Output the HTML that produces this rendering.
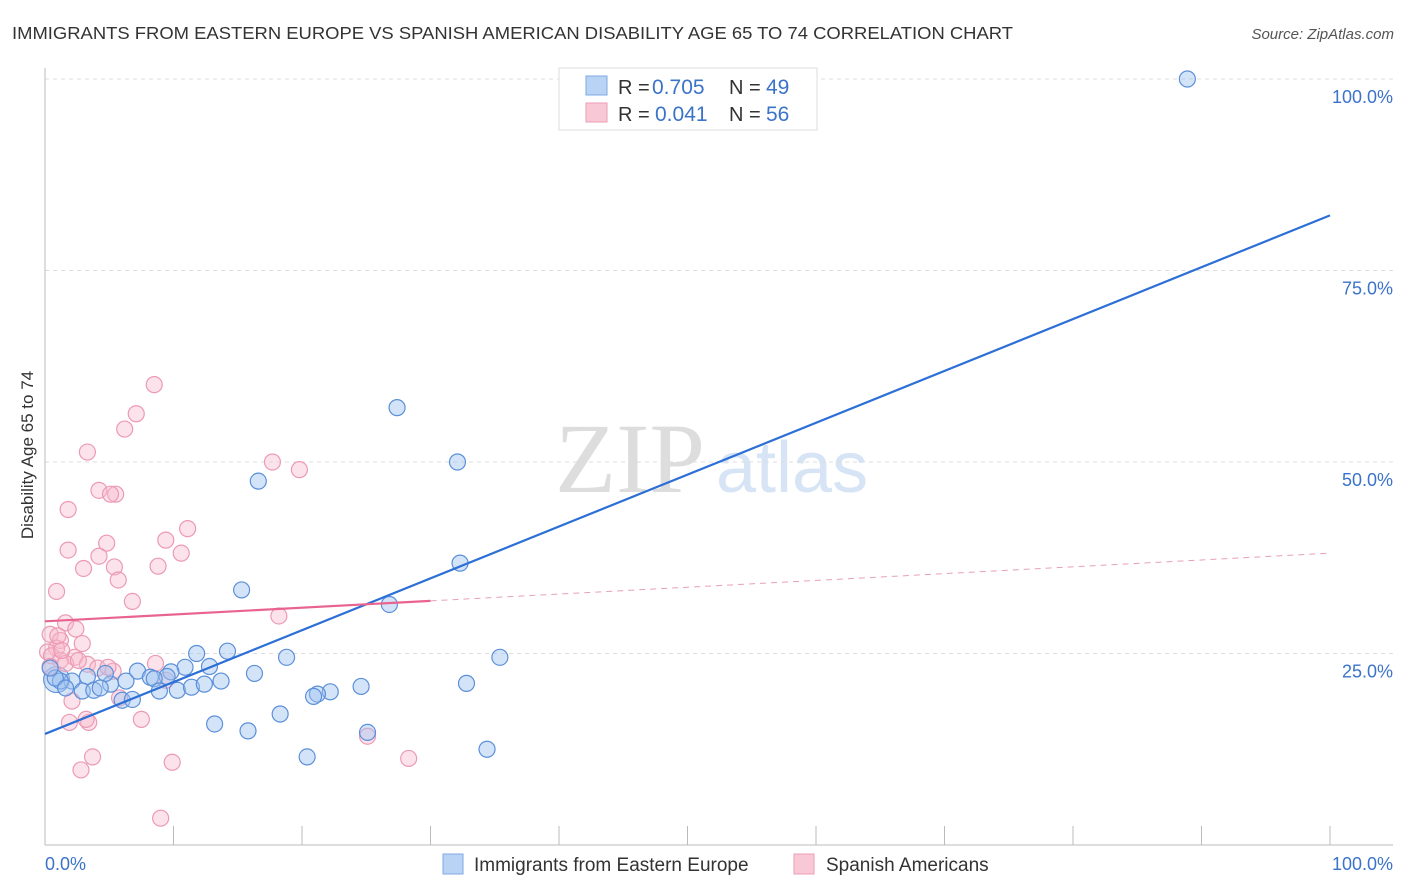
<!DOCTYPE html>
<html><head><meta charset="utf-8"><style>
body{margin:0;background:#fff;font-family:"Liberation Sans",sans-serif}
svg{display:block}
</style></head><body>
<svg id="c" width="1406" height="892">
<text x="12" y="39" font-size="17.5" fill="#333" textLength="1001" lengthAdjust="spacingAndGlyphs">IMMIGRANTS FROM EASTERN EUROPE VS SPANISH AMERICAN DISABILITY AGE 65 TO 74 CORRELATION CHART</text>
<text x="1394" y="39" font-size="15" fill="#555" font-style="italic" text-anchor="end">Source: ZipAtlas.com</text>
<text x="33" y="455" font-size="17" fill="#333" text-anchor="middle" transform="rotate(-90 33 455)">Disability Age 65 to 74</text>
<text x="555" y="492" font-size="100" fill="#ddd" font-family="Liberation Serif,serif">ZIP</text>
<text x="716" y="492" font-size="72" fill="#d6e4f5">atlas</text>
<g id="grid"></g><g id="pts"></g><g id="lines"></g>
<g>
<rect x="559" y="68" width="258" height="62" fill="#fff" stroke="#ddd"/>
<rect x="586" y="76" width="21" height="19" fill="#b9d3f5" stroke="#7fa9e3"/>
<rect x="586" y="103" width="21" height="19" fill="#f9c8d6" stroke="#ee9db5"/>
<text x="618" y="94" font-size="20" fill="#333">R =</text>
<text x="652" y="94" font-size="21" fill="#3b73c9">0.705</text>
<text x="729" y="94" font-size="20" fill="#333">N =</text>
<text x="766" y="94" font-size="21" fill="#3b73c9">49</text>
<text x="618" y="121" font-size="20" fill="#333">R =</text>
<text x="655" y="121" font-size="21" fill="#3b73c9">0.041</text>
<text x="729" y="121" font-size="20" fill="#333">N =</text>
<text x="766" y="121" font-size="21" fill="#3b73c9">56</text>
</g>
<g>
<rect x="443" y="854" width="20" height="20" fill="#b9d3f5" stroke="#7fa9e3"/>
<text x="474" y="871" font-size="19" fill="#333">Immigrants from Eastern Europe</text>
<rect x="794" y="854" width="20" height="20" fill="#f9c8d6" stroke="#ee9db5"/>
<text x="826" y="871" font-size="19" fill="#333">Spanish Americans</text>
</g>
<text x="45" y="870" font-size="18" fill="#3b73c9">0.0%</text>
<text x="1393" y="870" font-size="18" fill="#3b73c9" text-anchor="end">100.0%</text>
</svg>
<script>
const yTicks=[25,50,75,100];
const yTickLabels=["25.0%","50.0%","75.0%","100.0%"];
const blueX=[88.9,27.4,32.1,16.6,32.3,15.3,26.8,35.4,18.8,14.2,11.8,12.8,10.9,9.8,9.5,7.2,8.2,8.5,6.3,5.1,4.7,3.3,2.1,1.2,0.8,0.4,1.6,2.9,3.8,4.3,6.0,6.8,8.9,10.3,11.4,12.4,13.7,16.3,24.6,22.2,21.2,20.9,32.8,18.3,13.2,15.8,20.4,25.1,34.4];
const blueY=[100,57.1,50.0,47.5,36.8,33.3,31.4,24.5,24.5,25.3,25.0,23.3,23.2,22.6,22.0,22.7,21.9,21.7,21.4,21.0,22.4,22.0,21.4,21.4,21.8,23.1,20.5,20.1,20.2,20.5,18.9,19.0,20.1,20.2,20.6,21.0,21.4,22.4,20.7,20.0,19.7,19.4,21.1,17.1,15.8,14.9,11.5,14.7,12.5];
const pinkX=[8.5,7.1,6.2,3.3,1.8,4.2,5.5,5.1,17.7,19.8,11.1,9.4,4.8,1.8,4.2,10.6,3.0,5.4,8.8,5.7,0.9,6.8,18.2,1.6,2.4,0.4,1.2,2.9,0.9,0.2,0.5,1.2,2.3,0.4,1.6,3.3,4.1,5.3,8.6,9.4,5.8,2.1,1.9,3.4,3.2,7.5,3.7,2.8,9.9,28.3,25.1,9.0,1.0,1.3,2.6,4.9];
const pinkY=[60.1,56.3,54.3,51.3,43.8,46.3,45.8,45.8,50.0,49.0,41.3,39.8,39.4,38.5,37.7,38.1,36.1,36.3,36.4,34.6,33.1,31.8,29.9,29.0,28.2,27.5,26.7,26.3,25.7,25.2,24.7,24.1,24.5,23.3,23.7,23.6,23.1,22.7,23.7,21.5,19.2,18.8,16.0,16.0,16.4,16.4,11.5,9.8,10.8,11.3,14.2,3.5,27.3,25.4,24.1,23.2];
const blueTrend=[14.5,82.2];
const pinkTrend=[29.2,38.1];
const pinkSolidEnd=30;
const NS="http://www.w3.org/2000/svg";
const X0=45,X1=1330,Y0=845,Y1=79;
const sx=v=>X0+(X1-X0)*v/100, sy=v=>Y0-(Y0-Y1)*v/100;
function mk(t,a,p){const e=document.createElementNS(NS,t);for(const k in a)e.setAttribute(k,a[k]);p.appendChild(e);return e;}
const grid=document.getElementById('grid');
yTicks.forEach((t,i)=>{
 const l=mk('line',{x1:X0,x2:1393,y1:sy(t),y2:sy(t),stroke:'#ddd','stroke-dasharray':'4 4'},grid);
 
 
 const tx=mk('text',{x:1393,y:sy(t)+24,'font-size':18,fill:'#3b73c9','text-anchor':'end'},grid);
 tx.textContent=yTickLabels[i];
 
 
});
mk('line',{x1:X0,x2:X0,y1:68,y2:Y0,stroke:'#bbb'},grid);
const ax=mk('line',{x1:X0,x2:1393,y1:Y0,y2:Y0,stroke:'#bbb'},grid);


for(let i=0;i<=10;i++){mk('line',{x1:sx(i*10),x2:sx(i*10),y1:826,y2:Y0,stroke:'#bbb'},grid);}
const pts=document.getElementById('pts');
const big1=mk('circle',{cx:sx(0.9),cy:sy(21.6),r:13,fill:'rgba(160,195,240,0.5)',stroke:'#5b8fd9'},pts);


pinkX.forEach((x,i)=>{const c=mk('circle',{cx:sx(x),cy:sy(pinkY[i]),r:8,fill:'rgba(248,185,205,0.4)',stroke:'#ec9ab3','stroke-width':1.2},pts);
 
 });
blueX.forEach((x,i)=>{const c=mk('circle',{cx:sx(x),cy:sy(blueY[i]),r:8,fill:'rgba(160,195,240,0.45)',stroke:'#5b8fd9','stroke-width':1.2},pts);
 
 });
const lines=document.getElementById('lines');
const bl=mk('line',{x1:sx(0),y1:sy(blueTrend[0]),x2:sx(100),y2:sy(blueTrend[1]),stroke:'#2c6fd6','stroke-width':2.2},lines);


const pm=pinkTrend[0]+(pinkTrend[1]-pinkTrend[0])*pinkSolidEnd/100;
const pl=mk('line',{x1:sx(0),y1:sy(pinkTrend[0]),x2:sx(pinkSolidEnd),y2:sy(pm),stroke:'#e8638f','stroke-width':2.2},lines);


const pd=mk('line',{x1:sx(pinkSolidEnd),y1:sy(pm),x2:sx(100),y2:sy(pinkTrend[1]),stroke:'#e8a0b6','stroke-width':1,'stroke-dasharray':'6 5'},lines);


</script>
</body></html>
